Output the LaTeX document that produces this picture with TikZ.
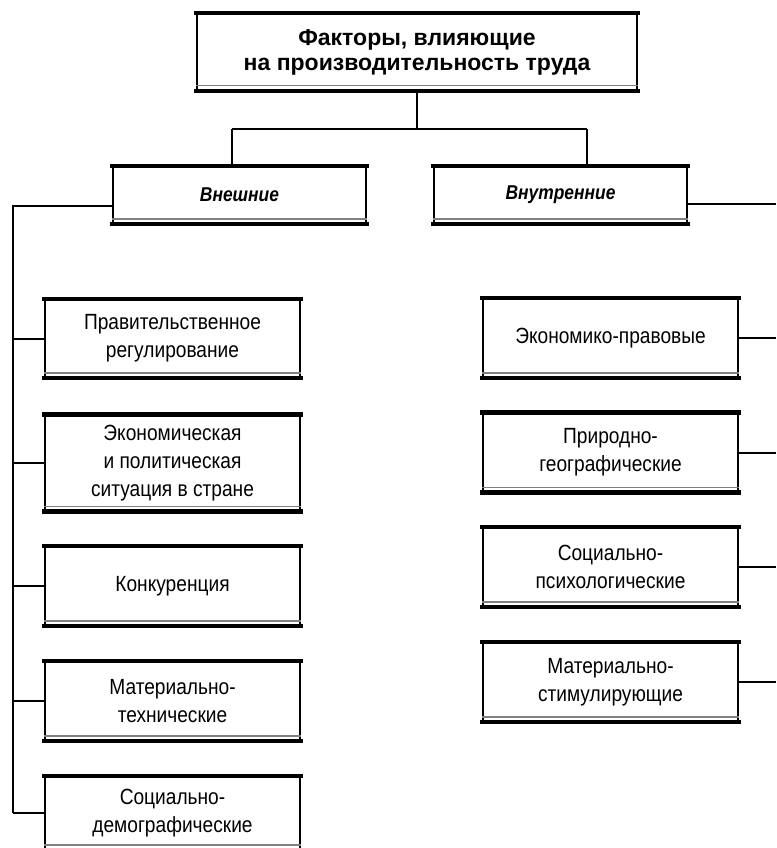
\documentclass[tikz,border=0pt]{standalone}
\usepackage{fontspec}
\setmainfont{Liberation Sans}
\newfontfamily\narrowfont{Liberation Sans}[FakeStretch=0.87]
\begin{document}
\begin{tikzpicture}[x=1pt,y=-1pt,
  conn/.style={line width=2pt},
  fbox/.style={draw, line width=1.8pt, fill=white, inner sep=0pt, align=center},
  titlebox/.style={fbox, minimum width=440pt, minimum height=76pt, font=\bfseries\fontsize{23}{25}\selectfont},
  headbox/.style={fbox, minimum width=253pt, minimum height=56pt, font=\narrowfont\bfseries\itshape\fontsize{20}{24}\selectfont},
  itembox/.style={fbox, minimum width=255pt, font=\narrowfont\fontsize{22}{28}\selectfont},
  thickedge/.style={line width=4.5pt, line cap=rect},
  greyedge/.style={line width=1.2pt, gray}
]
\useasboundingbox (0,0) rectangle (776,848);
\clip (0,0) rectangle (776,848);

% nodes
\node[titlebox] (top) at (417,52) {Факторы, влияющие\\на производительность труда};
\node[headbox] (ext) at (239.5,195) {Внешние};
\node[headbox] (int) at (560.5,195) {Внутренние};

\node[itembox, minimum height=77pt] (l1) at (172.5,338.5) {Правительственное\\регулирование};
\node[itembox, minimum height=95pt] (l2) at (172.5,463) {Экономическая\\и политическая\\ситуация в стране};
\node[itembox, minimum height=78pt] (l3) at (172.5,586) {Конкуренция};
\node[itembox, minimum height=78pt] (l4) at (172.5,701) {Материально-\\технические};
\node[itembox, minimum height=72pt] (l5) at (172.5,813) {Социально-\\демографические};

\node[itembox, minimum height=78pt] (r1) at (610.5,338) {Экономико-правовые};
\node[itembox, minimum height=78pt] (r2) at (610.5,452.5) {Природно-\\географические};
\node[itembox, minimum height=78pt] (r3) at (610.5,567) {Социально-\\психологические};
\node[itembox, minimum height=78pt] (r4) at (610.5,682) {Материально-\\стимулирующие};

% heavy top and bottom edges of every box
\foreach \n in {top,ext,int,l1,l2,l3,l4,l5,r1,r2,r3,r4}{
  \draw[thickedge] (\n.north west) -- (\n.north east);
  \draw[thickedge] (\n.south west) -- (\n.south east);
  \draw[greyedge] ([yshift=5pt]\n.south west) -- ([yshift=5pt]\n.south east);
}

% connectors
\coordinate (jm) at (417,129);
\coordinate (jl) at (232,129);
\coordinate (jr) at (587,129);
\draw[conn] (top.south) -- (jm);
\draw[conn] (jl) -- (jr);
\draw[conn] (jl) -- (jl |- ext.north);
\draw[conn] (jr) -- (jr |- int.north);

\coordinate (ea) at (113,206);
\coordinate (lt) at (13,206);
\coordinate (lb) at (13,813);
\draw[conn] (ea) -- (lt) -- (lb);
\foreach \n in {l1,l2,l3,l4,l5}{
  \draw[conn] (lt |- \n.west) -- (\n.west);
}

\coordinate (ia) at (687,204);
\coordinate (rt) at (776,204);
\draw[conn] (ia) -- (rt);
\foreach \n in {r1,r2,r3,r4}{
  \draw[conn] (\n.east) -- (rt |- \n.east);
}
\end{tikzpicture}
\end{document}
